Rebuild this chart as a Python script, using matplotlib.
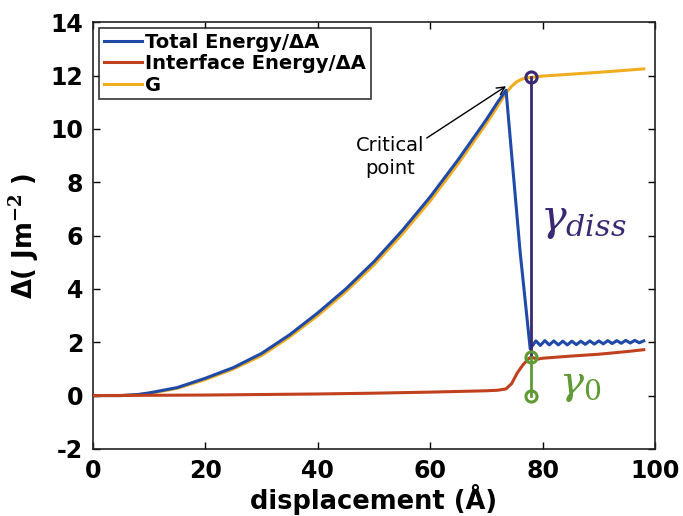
import matplotlib
matplotlib.use("Agg")
import matplotlib.pyplot as plt

# displacement grid (Angstrom) and curves
x_smooth = [0, 5, 8, 10, 15, 20, 25, 30, 35, 40, 45, 50, 55, 60, 65, 70, 72, 73.5]
g_smooth = [0, 0, 0.03, 0.08, 0.27, 0.6, 1.0, 1.5, 2.2, 3.0, 3.9, 4.9, 6.05, 7.3, 8.7, 10.2, 10.85, 11.35]
total_smooth = [0, 0, 0.04, 0.1, 0.3, 0.65, 1.05, 1.58, 2.28, 3.1, 4.0, 5.02, 6.18, 7.45, 8.85, 10.35, 11.0, 11.45]

x_g_tail = [74.5, 75.5, 76.5, 77.5, 78, 80, 85, 90, 95, 98]
g_tail = [11.6, 11.78, 11.88, 11.92, 11.93, 11.98, 12.05, 12.12, 12.2, 12.25]

x_drop = [73.5, 76.0, 77.8]
total_drop = [11.45, 5.4, 1.75]

x_wiggle = [78.8, 79.6, 80.4, 81.2, 82.0, 82.8, 83.6, 84.4, 85.2, 86.0, 86.8, 87.6,
            88.4, 89.2, 90.0, 90.8, 91.6, 92.4, 93.2, 94.0, 94.8, 95.6, 96.4, 97.2, 98.0]
total_wiggle = [2.05, 1.88, 2.06, 1.9, 2.05, 1.9, 2.04, 1.9, 2.04, 1.91, 2.04, 1.92,
                2.05, 1.93, 2.05, 1.94, 2.06, 1.95, 2.06, 1.96, 2.07, 1.97, 2.07, 1.98, 2.05]

x_interface = [0, 10, 20, 30, 40, 50, 60, 66, 70, 72, 73.5, 74.5, 75.5, 76.5, 77.5, 78,
               79, 80, 85, 90, 95, 98]
interface = [0, 0.01, 0.02, 0.04, 0.06, 0.09, 0.13, 0.16, 0.18, 0.2, 0.25, 0.45, 0.85, 1.15,
             1.38, 1.45, 1.36, 1.4, 1.48, 1.55, 1.65, 1.72]

x_critical = 73.5
y_critical = 11.6
x_gamma = 78
y_gamma_top = 11.93
y_gamma_mid = 1.45
y_gamma_bottom = 0

blue = "#1f4aa8"
red = "#c1401e"
yellow = "#f0ad1e"
purple = "#3a2872"
green = "#5f9a35"

total_x = x_smooth + x_drop[1:] + x_wiggle
total_y = total_smooth + total_drop[1:] + total_wiggle
g_x = x_smooth + x_g_tail
g_y = g_smooth + g_tail

plt.rcParams["font.family"] = ["DejaVu Sans"]
plt.rcParams["mathtext.fontset"] = "dejavuserif"
plt.rcParams["axes.unicode_minus"] = False

fig = plt.figure(figsize=(6.83, 5.16), dpi=100)
ax = fig.add_axes([0.136, 0.13, 0.823, 0.827])

ax.plot(g_x, g_y, color=yellow, lw=2.2, label="G", zorder=2)
ax.plot(total_x, total_y, color=blue, lw=2.2, label="Total Energy/\u0394A", zorder=3)
ax.plot(x_interface, interface, color=red, lw=2.2, label="Interface Energy/\u0394A", zorder=3)

ax.plot([x_gamma, x_gamma], [y_gamma_top, y_gamma_mid], color=purple, lw=2, zorder=4)
ax.plot([x_gamma, x_gamma], [y_gamma_mid, y_gamma_bottom], color=green, lw=2, zorder=4)
ax.plot([x_gamma], [y_gamma_top], "o", ms=8, mfc="none", mec=purple, mew=2.2, zorder=5)
ax.plot([x_gamma], [y_gamma_mid], "o", ms=8, mfc="none", mec=green, mew=2.2, zorder=5)
ax.plot([x_gamma], [y_gamma_bottom], "o", ms=8, mfc="none", mec=green, mew=2.2, zorder=5)

ax.text(79.6, 6.2, r"$\gamma_{\mathit{diss}}$", color=purple, fontsize=31)
ax.text(83.0, 0.05, r"$\gamma_0$", color=green, fontsize=29)

ax.annotate("Critical\npoint", xy=(x_critical, y_critical), xytext=(52.8, 8.95),
            ha="center", va="center", fontsize=14, linespacing=1.3,
            arrowprops=dict(arrowstyle="->", color="black", lw=1, shrinkA=0, shrinkB=0,
                            relpos=(1.0, 0.9)))

ax.set_xlim(0, 100)
ax.set_ylim(-2, 14)
ax.set_xticks([0, 20, 40, 60, 80, 100])
ax.set_yticks([-2, 0, 2, 4, 6, 8, 10, 12, 14])
ax.tick_params(direction="in", top=True, right=True, length=5, width=1, labelsize=17, pad=7)
for lab in ax.get_xticklabels() + ax.get_yticklabels():
    lab.set_fontweight("bold")
for side in ax.spines.values():
    side.set_linewidth(1.2)
    side.set_color("#222222")

ax.set_xlabel("displacement (\u00c5)", fontsize=18.5, fontweight="bold", labelpad=1)
ax.set_ylabel("\u0394( Jm$^{\\mathbf{-2}}$ )", fontsize=18.5, fontweight="bold", labelpad=6)

handles, labels = ax.get_legend_handles_labels()
order = [1, 2, 0]
leg = ax.legend([handles[i] for i in order], [labels[i] for i in order], loc="upper left",
                prop={"weight": "bold", "size": 14}, frameon=True, fancybox=False,
                edgecolor="black", handlelength=2.0, handletextpad=0.15, labelspacing=0.12,
                borderpad=0.25, borderaxespad=0.3)
leg.get_frame().set_linewidth(1.2)

fig.savefig("out.png", dpi=100)
